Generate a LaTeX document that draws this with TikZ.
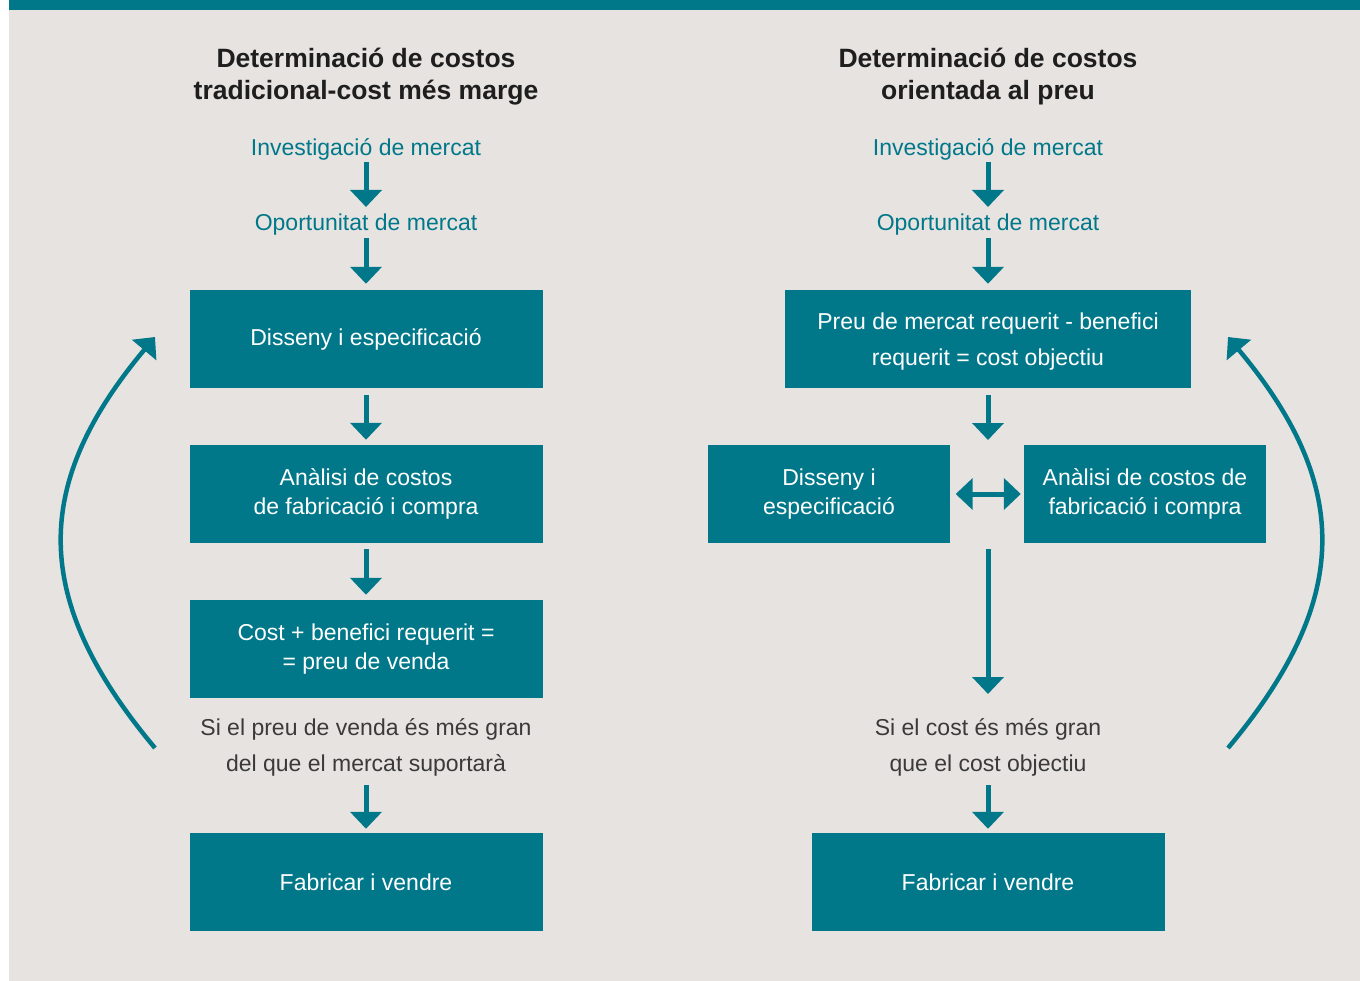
\documentclass[tikz,border=0pt]{standalone}
\usepackage{fontspec}
\setmainfont{Liberation Sans}
\usetikzlibrary{arrows.meta,calc}
\definecolor{tealc}{HTML}{00788A}
\definecolor{bgc}{HTML}{E7E3E0}
\definecolor{darkt}{HTML}{3A3A3A}
\definecolor{titlec}{HTML}{1E1E1E}
\tikzset{
  box/.style={fill=tealc, text=white, minimum width=353pt, minimum height=98pt, inner sep=0pt, align=center, font=\fontsize{23}{29}\selectfont},
  ttl/.style={text=titlec, align=center, inner sep=0pt, font=\bfseries\fontsize{26.5}{32}\selectfont},
  lbl/.style={text=tealc, inner sep=0pt, text height=0.75em, text depth=0.25em, font=\fontsize{23}{28}\selectfont},
  note/.style={text=darkt, align=center, inner sep=0pt, font=\fontsize{23}{36}\selectfont},
  arr/.style={draw=tealc, line width=5pt, -{Triangle[width=31pt,length=17pt]}},
  darr/.style={draw=tealc, line width=5pt, {Triangle[width=31pt,length=17pt]}-{Triangle[width=31pt,length=17pt]}},
  carr/.style={draw=tealc, line width=4.5pt, -{Triangle[width=31pt,length=17pt]}}
}
\begin{document}
\begin{tikzpicture}[x=1pt,y=-1pt]
\useasboundingbox (0,0) rectangle (1360,981);
\fill[bgc] (9,10) rectangle (1360,981);
\fill[tealc] (9,0) rectangle (1360,10);

% ---------- left column ----------
\node[ttl] (tL) at (366,77) {Determinació de costos\\tradicional-cost més marge};
\node[lbl] (invL) at (366,153) {Investigació de mercat};
\node[lbl] (opoL) at (366,228) {Oportunitat de mercat};
\node[box] (b1) at (366,339) {Disseny i especificació};
\node[box] (b2) at (366,494) {Anàlisi de costos\\de fabricació i compra};
\node[box] (b3) at (366,649) {Cost + benefici requerit =\\= preu de venda};
\node[note] (noteL) at (366,747) {Si el preu de venda és més gran\\del que el mercat suportarà};
\node[box] (b4) at (366,882) {Fabricar i vendre};

\draw[arr] ($(invL)+(0,9)$) -- ($(opoL)+(0,-21)$);
\draw[arr] ($(opoL)+(0,10)$) -- ($(b1.north)+(0,-6)$);
\draw[arr, shorten <=7pt, shorten >=5pt] (b1) -- (b2);
\draw[arr, shorten <=6pt, shorten >=5pt] (b2) -- (b3);
\draw[arr] ($(noteL)+(0,38)$) -- ($(b4.north)+(0,-4)$);

\coordinate (cl1) at (155,748);
\coordinate (cl2) at (155,337);
\draw[carr] (cl1) .. controls (31,600) and (31,485) .. (cl2);

% ---------- right column ----------
\node[ttl] (tR) at (988,77) {Determinació de costos\\orientada al preu};
\node[lbl] (invR) at (988,153) {Investigació de mercat};
\node[lbl] (opoR) at (988,228) {Oportunitat de mercat};
\node[box, minimum width=406pt] (r1) at (988,339) {};
\node[text=white, align=center, inner sep=0pt, font=\fontsize{23}{36}\selectfont] (r1t) at (988,342) {Preu de mercat requerit - benefici\\requerit = cost objectiu};
\node[box, minimum width=242pt] (r2a) at (829,494) {Disseny i\\especificació};
\node[box, minimum width=242pt] (r2b) at (1145,494) {Anàlisi de costos de\\fabricació i compra};
\node[note] (noteR) at (988,747) {Si el cost és més gran\\que el cost objectiu};
\node[box] (r4) at (988,882) {Fabricar i vendre};

\coordinate (m1) at (988,440);
\coordinate (m2) at (988,549);
\draw[arr] ($(invR)+(0,9)$) -- ($(opoR)+(0,-21)$);
\draw[arr] ($(opoR)+(0,10)$) -- ($(r1.north)+(0,-6)$);
\draw[arr] ($(r1.south)+(0,7)$) -- (m1);
\draw[darr, shorten <=5.5pt, shorten >=3pt] (r2a) -- (r2b);
\draw[arr] (m2) -- ($(noteR)+(0,-53)$);
\draw[arr] ($(noteR)+(0,38)$) -- ($(r4.north)+(0,-4)$);

\coordinate (cr1) at (1228,748);
\coordinate (cr2) at (1228,337);
\draw[carr] (cr1) .. controls (1352,600) and (1352,485) .. (cr2);
\end{tikzpicture}
\end{document}
